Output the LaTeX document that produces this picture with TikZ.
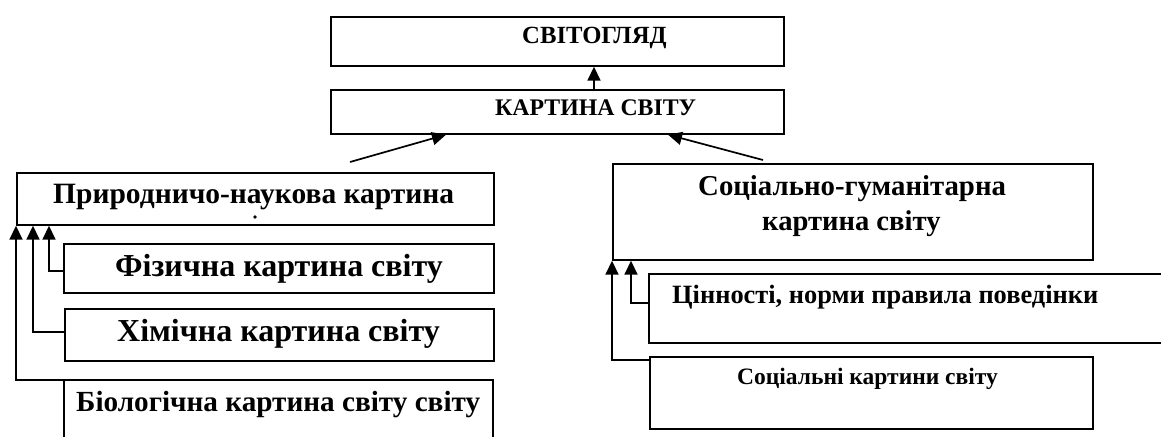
\documentclass[tikz,border=0pt]{standalone}
\usepackage{fontspec}
\setmainfont{Liberation Serif}
\usetikzlibrary{arrows.meta}
\tikzset{
  box/.style={draw, line width=1.7pt, rectangle, inner sep=0pt, anchor=north west},
  ln/.style={line width=1.7pt},
  arr/.style={line width=1.7pt, -{Triangle[length=14pt,width=13pt]}},
  lbl/.style={anchor=base west, inner sep=0pt, font=\bfseries},
}
\newcommand{\fs}[1]{\fontsize{#1}{#1}\selectfont}
\begin{document}
\begin{tikzpicture}[x=1pt,y=-1pt]
\useasboundingbox (0,0) rectangle (1161,437);
% boxes
\node[box, minimum width=453pt, minimum height=49pt] (sv) at (330,16) {};
\node[box, minimum width=453pt, minimum height=44pt] (kart) at (330,89) {};
\node[box, minimum width=477pt, minimum height=52pt] (prir) at (16,172) {};
\node[box, minimum width=430pt, minimum height=49pt] (fiz) at (63,243) {};
\node[box, minimum width=429pt, minimum height=52pt] (him) at (64,308) {};
\coordinate (bio) at (64,380);
\draw[ln] (64,437) -- (bio) -- (493,380) -- (493,437);
\node[box, minimum width=480pt, minimum height=96pt] (soc) at (612,163) {};
\coordinate (cin) at (649,274);
\draw[ln] (1165,274) -- (cin) -- (649,343) -- (1165,343);
\node[box, minimum width=443pt, minimum height=72pt] (socp) at (649,356) {};
% texts
\node[lbl, font=\bfseries\fs{24.7}] (t1) at (522,43) {СВІТОГЛЯД};
\node[lbl, font=\bfseries\fs{23.8}] (t2) at (495,115) {КАРТИНА СВІТУ};
\node[lbl, font=\bfseries\fs{29.5}] (t3) at (53,203) {Природничо-наукова картина};
\fill (255,217) circle (1.9pt);
\node[lbl, font=\bfseries\fs{32}] (t4) at (115,276) {Фізична картина світу};
\node[lbl, font=\bfseries\fs{32}] (t5) at (117,341) {Хімічна картина світу};
\node[lbl, font=\bfseries\fs{29.2}] (t6) at (76,411) {Біологічна картина світу світу};
\node[lbl, font=\bfseries\fs{28.8}] (t7) at (698,195) {Соціально-гуманітарна};
\node[lbl, font=\bfseries\fs{28.6}] (t8) at (762,230) {картина світу};
\node[lbl, font=\bfseries\fs{26.4}] (t9) at (672,303) {Цінності, норми правила поведінки};
\node[lbl, font=\bfseries\fs{23.5}] (t10) at (737,384) {Соціальні картини світу};
% connectors
\draw[arr] (kart.north -| 594,0) -- (sv.south -| 594,0);
\coordinate (la) at (350,162);
\draw[arr] (la) -- (446,133 |- kart.south);
\coordinate (ra) at (763,160);
\draw[arr] (ra) -- (668,133 |- kart.south);
\draw[arr] (fiz.west |- 0,271) -- (49,271) -- (49,224 |- prir.south);
\draw[arr] (him.west |- 0,332) -- (33,332) -- (33,224 |- prir.south);
\draw[arr] (bio) -- (16,380) -- (16,224 |- prir.south);
\draw[arr] (cin |- 0,303) -- (631,303) -- (631,259 |- soc.south);
\draw[arr] (socp.west |- 0,360) -- (612,360) -- (612,259 |- soc.south);
\end{tikzpicture}
\end{document}
